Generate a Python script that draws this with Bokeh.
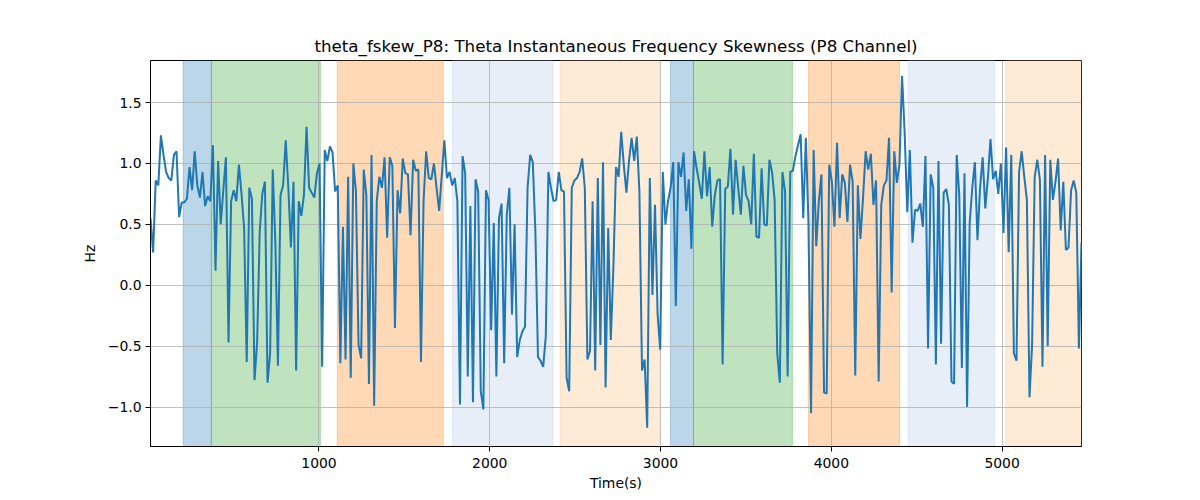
from bokeh.plotting import figure
from bokeh.models import Range1d, FixedTicker, CustomJSTickFormatter, BoxAnnotation
from bokeh.embed import file_html
from bokeh.resources import INLINE
import numpy as np

# ---- data ----
t_start = 13.5
t_end = 5465.0

seg1 = [0.55,0.27,0.86,0.82,1.23,1.07,0.93,0.88,0.86,1.07,1.10,0.56,0.68,0.68,0.71,0.97,0.78,1.10,0.82,0.72,
        0.93,0.65,0.73,0.69,1.15,0.12,1.02,0.50,0.78,1.05,-0.47,0.69,0.78,0.69,0.99,0.75,0.47,-0.63,0.80,0.71,
        -0.78,-0.47,0.44,0.75,0.85,-0.80,-0.56,0.95,0.36,-0.66,0.74,0.82]
seg2 = [1.19,0.80,0.31,0.85,-0.70,0.69,0.57,0.74,1.30,0.80,0.76,0.72,0.92,1.00,-0.67,1.11,1.02,1.14,1.09,0.77,
        0.82,-0.64,0.48,-0.61,0.89,-0.76,1.00,0.77,-0.49,-0.60,0.95,0.74,-0.81,1.07,-0.99,0.69,0.89,0.80,1.05,0.39,
        1.05,0.98,-0.35,0.78,0.59,1.04,0.92,0.91,0.41,1.03,0.94,0.95]
seg3 = [-0.63,0.69,1.10,0.88,0.87,1.00,0.80,0.61,0.90,1.19,0.88,0.93,0.82,0.88,0.69,-0.98,1.06,0.92,-0.75,0.65,
        -0.96,0.87,0.77,-0.87,-1.02,0.78,0.70,-0.37,0.51,-0.75,0.55,0.67,-0.64,0.58,0.80,-0.24,0.50,-0.59,-0.45,-0.38,
        -0.34,0.80,1.07,1.01,0.44,-0.59,-0.62,-0.67,-0.42,0.93,0.80,0.69]
seg4 = [0.70,0.93,0.78,0.77,-0.76,-0.87,0.80,0.86,0.88,0.93,1.04,0.80,-0.61,-0.54,0.69,-0.70,0.88,-0.49,1.01,-0.84,
        0.47,-0.45,0.15,0.97,0.89,1.26,0.99,0.76,1.02,1.21,1.02,1.22,0.77,-0.70,-0.61,-1.17,0.88,-0.08,0.66,-0.24,
        -0.53,0.93,0.50,0.69,0.80,1.01,-0.17,1.01,0.89,1.09,0.61,0.87,0.30]
seg5 = [1.10,0.96,0.84,0.71,1.10,0.73,0.97,0.48,0.74,0.86,0.87,-0.65,0.79,0.81,1.12,0.58,1.03,0.80,0.58,0.98,
        0.74,0.69,0.50,1.08,0.40,0.39,0.96,0.50,0.49,1.03,0.93,0.70,-0.56,-0.80,0.93,0.77,-0.75,0.93,0.94,1.06,
        1.15,1.24,0.55,1.21,0.52,-1.05,1.11,0.32,0.69,0.91,-0.88,-0.89]
seg6 = [0.99,0.85,0.48,1.17,0.55,0.91,0.84,0.52,0.99,0.85,-0.74,0.82,0.38,0.72,1.10,0.95,1.08,0.66,0.86,-0.79,
        0.66,0.82,0.86,1.21,-0.06,1.10,0.84,0.99,1.72,1.25,0.60,1.11,0.35,0.62,0.61,0.67,0.48,1.06,-0.52,0.91,
        0.80,-0.65,1.02,-0.48,0.76,0.79,0.66,-0.79,-0.81,1.07,0.74]
seg7 = [-0.68,0.92,-1.00,0.51,0.80,1.01,0.37,0.80,1.05,0.63,0.88,1.20,0.87,0.94,0.75,1.00,0.43,1.13,0.27,1.07,
        -0.56,-0.62,0.93,1.10,0.89,0.70,-0.92,-0.49,0.89,1.03,0.87,-0.67,1.07,-0.50,1.03,0.70,0.85,1.04,0.45,0.85,
        0.29,0.31,0.78,0.86,0.76,-0.52,0.35]

span_starts = [205, 370, 1107, 1781, 2412, 3058, 3193, 3866, 4450, 5022]
span_ends   = [370, 1008, 1728, 2371, 2996, 3193, 3772, 4400, 4956, 5465]
span_colors = ["#1f77b4", "#2ca02c", "#ff7f0e", "#aec7e8", "#ffbb78",
               "#1f77b4", "#2ca02c", "#ff7f0e", "#aec7e8", "#ffbb78"]

x_ticks = [1000, 2000, 3000, 4000, 5000]
y_ticks = [-1.0, -0.5, 0.0, 0.5, 1.0, 1.5]

values = seg1 + seg2 + seg3 + seg4 + seg5 + seg6 + seg7
times = np.linspace(t_start, t_end, len(values))

FONT = "DejaVu Sans"

p = figure(frame_width=931, frame_height=386, output_backend="svg", toolbar_location=None,
           x_range=Range1d(t_start, t_end), y_range=Range1d(-1.324, 1.845),
           min_border_left=150, min_border_top=60, min_border_right=100, min_border_bottom=10,
           title="theta_fskew_P8: Theta Instantaneous Frequency Skewness (P8 Channel)")

p.title.align = "center"
p.title.text_font = FONT
p.title.text_font_size = "16.7px"
p.title.text_font_style = "normal"
p.title.text_color = "black"

for s, e, c in zip(span_starts, span_ends, span_colors):
    p.add_layout(BoxAnnotation(left=s, right=e, fill_color=c, fill_alpha=0.3,
                               line_color=c, line_alpha=0.3, line_width=1, level="image"))

p.line(times, values, line_color="#1f77b4", line_width=2)

p.xaxis.ticker = FixedTicker(ticks=x_ticks)
p.yaxis.ticker = FixedTicker(ticks=y_ticks)
p.yaxis.formatter = CustomJSTickFormatter(code="return tick.toFixed(1).replace('-', '\u2212');")
p.xaxis.formatter = CustomJSTickFormatter(code="return tick.toFixed(0);")

for ax in (p.xaxis, p.yaxis):
    ax.major_label_text_font = FONT
    ax.major_label_text_font_size = "13.9px"
    ax.major_label_text_color = "black"
    ax.axis_label_text_font = FONT
    ax.axis_label_text_font_size = "13.9px"
    ax.axis_label_text_font_style = "normal"
    ax.axis_label_text_color = "black"
    ax.axis_line_color = "black"
    ax.major_tick_line_color = "black"
    ax.major_tick_out = 5
    ax.major_tick_in = 0
    ax.minor_tick_line_color = None

p.xaxis.axis_label = "Time(s)"
p.yaxis.axis_label = "Hz"
p.xaxis.axis_label_standoff = 4
p.yaxis.axis_label_standoff = 7
p.xaxis.major_label_standoff = 6
p.yaxis.major_label_standoff = 4

p.grid.grid_line_color = "#b0b0b0"
p.grid.grid_line_width = 0.8
p.outline_line_color = "black"
p.outline_line_width = 1
p.outline_line_alpha = 1
p.background_fill_color = "white"
p.border_fill_color = "white"

open("out.html", "w").write(file_html(p, INLINE))
